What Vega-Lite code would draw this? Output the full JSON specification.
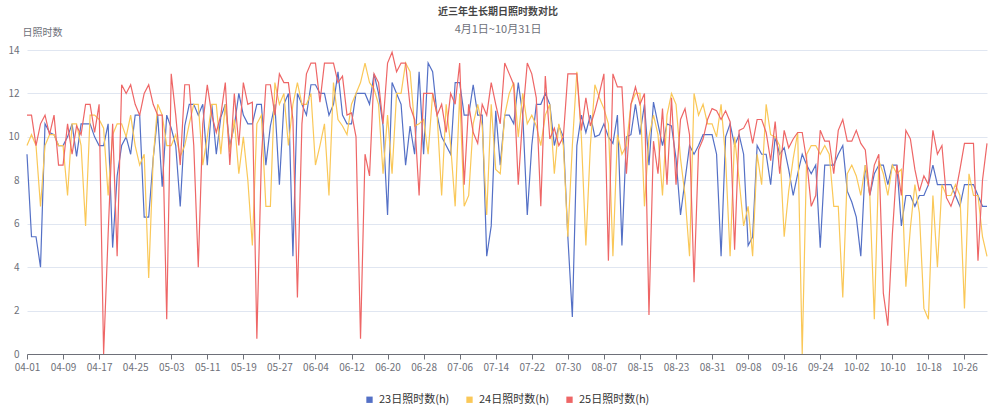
{
"$schema":"https://vega.github.io/schema/vega-lite/v6.json",
"width":960,"height":304,
"autosize":{"type":"none"},
"padding":{"left":27,"top":50,"right":13,"bottom":60},
"background":"white",
"title":{"text":"近三年生长期日照时数对比","subtitle":"4月1日~10月31日","anchor":"middle","dx":-9,"fontSize":10,"fontWeight":"bold","color":"#464646","subtitleFontSize":11,"subtitleColor":"#6E7079","subtitlePadding":7,"offset":-8,"font":"Noto Sans CJK SC","subtitleFont":"Noto Sans CJK SC"},
"data":{"values":[
{"d":"04-01","a":9.2,"b":9.6,"c":11.0},{"d":"04-02","a":5.4,"b":10.1,"c":11.0},{"d":"04-03","a":5.4,"b":9.6,"c":9.6},{"d":"04-04","a":4.0,"b":6.8,"c":10.6},{"d":"04-05","a":10.6,"b":9.6,"c":11.0},{"d":"04-06","a":10.2,"b":10.1,"c":10.1},{"d":"04-07","a":10.1,"b":10.1,"c":11.0},{"d":"04-08","a":9.6,"b":9.6,"c":8.7},{"d":"04-09","a":9.6,"b":9.6,"c":8.7},{"d":"04-10","a":10.0,"b":7.3,"c":10.6},
{"d":"04-11","a":10.6,"b":10.6,"c":9.2},{"d":"04-12","a":9.1,"b":10.6,"c":10.5},{"d":"04-13","a":10.6,"b":9.6,"c":10.1},{"d":"04-14","a":10.6,"b":5.9,"c":11.5},{"d":"04-15","a":10.6,"b":11.0,"c":11.5},{"d":"04-16","a":10.0,"b":11.0,"c":10.2},{"d":"04-17","a":9.6,"b":10.8,"c":11.5},{"d":"04-18","a":9.6,"b":10.4,"c":0},{"d":"04-19","a":10.6,"b":7.3,"c":5.5},{"d":"04-20","a":4.9,"b":10.1,"c":10.6},
{"d":"04-21","a":8.2,"b":10.6,"c":4.5},{"d":"04-22","a":9.6,"b":10.6,"c":12.4},{"d":"04-23","a":10.0,"b":10.0,"c":12.0},{"d":"04-24","a":9.2,"b":11.0,"c":12.4},{"d":"04-25","a":11.0,"b":9.6,"c":11.5},{"d":"04-26","a":11.0,"b":8.7,"c":11.0},{"d":"04-27","a":6.3,"b":9.2,"c":12.0},{"d":"04-28","a":6.3,"b":3.5,"c":12.4},{"d":"04-29","a":9.0,"b":9.0,"c":11.5},{"d":"04-30","a":11.0,"b":11.5,"c":11.0},
{"d":"05-01","a":7.7,"b":11.0,"c":11.0},{"d":"05-02","a":11.0,"b":9.6,"c":1.6},{"d":"05-03","a":10.4,"b":9.6,"c":12.9},{"d":"05-04","a":9.6,"b":10.1,"c":11.0},{"d":"05-05","a":6.8,"b":9.1,"c":8.7},{"d":"05-06","a":10.5,"b":9.6,"c":12.4},{"d":"05-07","a":11.5,"b":10.6,"c":12.4},{"d":"05-08","a":11.5,"b":11.5,"c":9.6},{"d":"05-09","a":11.0,"b":11.5,"c":4.0},{"d":"05-10","a":11.5,"b":8.7,"c":10.6},
{"d":"05-11","a":8.7,"b":10.0,"c":12.4},{"d":"05-12","a":11.5,"b":11.5,"c":11.0},{"d":"05-13","a":9.2,"b":11.5,"c":10.2},{"d":"05-14","a":10.9,"b":9.2,"c":11.0},{"d":"05-15","a":11.5,"b":11.5,"c":12.5},{"d":"05-16","a":9.6,"b":9.3,"c":8.7},{"d":"05-17","a":10.5,"b":10.8,"c":12.0},{"d":"05-18","a":12.0,"b":8.3,"c":9.6},{"d":"05-19","a":11.0,"b":10.0,"c":12.5},{"d":"05-20","a":10.6,"b":8.0,"c":11.5},
{"d":"05-21","a":10.6,"b":5.0,"c":11.6},{"d":"05-22","a":11.5,"b":10.6,"c":0.7},{"d":"05-23","a":11.5,"b":11.0,"c":9.0},{"d":"05-24","a":8.7,"b":6.8,"c":12.4},{"d":"05-25","a":10.5,"b":6.8,"c":12.4},{"d":"05-26","a":11.5,"b":12.5,"c":11.0},{"d":"05-27","a":7.8,"b":11.5,"c":12.9},{"d":"05-28","a":11.5,"b":12.0,"c":12.5},{"d":"05-29","a":12.0,"b":9.6,"c":12.5},{"d":"05-30","a":4.5,"b":11.5,"c":10.8},
{"d":"05-31","a":12.0,"b":12.5,"c":2.6},{"d":"06-01","a":11.5,"b":11.5,"c":10.6},{"d":"06-02","a":11.0,"b":11.5,"c":12.9},{"d":"06-03","a":12.4,"b":12.0,"c":13.4},{"d":"06-04","a":12.4,"b":8.7,"c":13.4},{"d":"06-05","a":12.0,"b":9.6,"c":11.6},{"d":"06-06","a":12.0,"b":10.6,"c":13.4},{"d":"06-07","a":11.0,"b":7.3,"c":13.4},{"d":"06-08","a":11.5,"b":12.5,"c":13.4},{"d":"06-09","a":13.0,"b":10.8,"c":12.5},
{"d":"06-10","a":11.0,"b":10.5,"c":12.8},{"d":"06-11","a":10.6,"b":10.1,"c":11.0},{"d":"06-12","a":10.6,"b":11.5,"c":11.1},{"d":"06-13","a":12.0,"b":12.0,"c":10.0},{"d":"06-14","a":12.0,"b":12.5,"c":0.7},{"d":"06-15","a":12.0,"b":13.4,"c":9.2},{"d":"06-16","a":11.5,"b":12.5,"c":8.2},{"d":"06-17","a":12.9,"b":12.2,"c":12.9},{"d":"06-18","a":12.0,"b":11.5,"c":12.5},{"d":"06-19","a":10.5,"b":8.3,"c":10.6},
{"d":"06-20","a":6.4,"b":11.0,"c":13.4},{"d":"06-21","a":12.5,"b":8.3,"c":13.9},{"d":"06-22","a":12.0,"b":12.0,"c":13.0},{"d":"06-23","a":11.5,"b":12.0,"c":13.4},{"d":"06-24","a":8.7,"b":13.4,"c":13.4},{"d":"06-25","a":10.5,"b":13.0,"c":11.4},{"d":"06-26","a":9.2,"b":10.5,"c":10.8},{"d":"06-27","a":13.0,"b":10.6,"c":7.3},{"d":"06-28","a":9.2,"b":10.8,"c":12.0},{"d":"06-29","a":13.4,"b":9.2,"c":12.0},
{"d":"06-30","a":13.0,"b":12.0,"c":12.0},{"d":"07-01","a":11.0,"b":11.0,"c":11.0},{"d":"07-02","a":10.0,"b":7.3,"c":11.5},{"d":"07-03","a":9.6,"b":11.5,"c":10.2},{"d":"07-04","a":9.2,"b":9.6,"c":12.0},{"d":"07-05","a":12.5,"b":6.8,"c":11.5},{"d":"07-06","a":12.5,"b":12.0,"c":13.4},{"d":"07-07","a":11.0,"b":6.8,"c":7.8},{"d":"07-08","a":11.0,"b":7.3,"c":11.5},{"d":"07-09","a":12.4,"b":10.6,"c":10.2},
{"d":"07-10","a":11.0,"b":11.5,"c":9.7},{"d":"07-11","a":11.0,"b":10.5,"c":11.5},{"d":"07-12","a":4.5,"b":6.4,"c":11.0},{"d":"07-13","a":5.9,"b":11.5,"c":12.5},{"d":"07-14","a":11.2,"b":8.5,"c":11.5},{"d":"07-15","a":8.7,"b":8.3,"c":10.6},{"d":"07-16","a":11.0,"b":11.0,"c":13.4},{"d":"07-17","a":11.0,"b":12.0,"c":12.9},{"d":"07-18","a":10.6,"b":12.5,"c":12.4},{"d":"07-19","a":12.5,"b":10.0,"c":7.8},
{"d":"07-20","a":11.0,"b":12.0,"c":11.0},{"d":"07-21","a":6.4,"b":10.6,"c":13.4},{"d":"07-22","a":9.6,"b":11.0,"c":12.9},{"d":"07-23","a":11.5,"b":10.5,"c":11.8},{"d":"07-24","a":11.5,"b":9.6,"c":6.8},{"d":"07-25","a":12.0,"b":11.0,"c":12.8},{"d":"07-26","a":11.5,"b":11.5,"c":9.9},{"d":"07-27","a":9.6,"b":8.3,"c":10.4},{"d":"07-28","a":10.5,"b":10.6,"c":9.6},{"d":"07-29","a":10.0,"b":9.6,"c":10.0},
{"d":"07-30","a":5.4,"b":5.4,"c":12.9},{"d":"07-31","a":1.7,"b":9.6,"c":12.9},{"d":"08-01","a":9.6,"b":13.0,"c":12.9},{"d":"08-02","a":11.0,"b":10.0,"c":10.3},{"d":"08-03","a":10.2,"b":5.0,"c":11.8},{"d":"08-04","a":11.0,"b":9.6,"c":10.5},{"d":"08-05","a":10.0,"b":12.4,"c":11.2},{"d":"08-06","a":10.1,"b":11.8,"c":12.0},{"d":"08-07","a":10.6,"b":11.3,"c":12.9},{"d":"08-08","a":10.0,"b":10.6,"c":4.3},
{"d":"08-09","a":9.7,"b":4.5,"c":12.9},{"d":"08-10","a":11.0,"b":10.1,"c":12.3},{"d":"08-11","a":5.0,"b":9.2,"c":12.3},{"d":"08-12","a":10.0,"b":9.6,"c":8.3},{"d":"08-13","a":10.1,"b":11.5,"c":11.5},{"d":"08-14","a":11.5,"b":12.0,"c":12.3},{"d":"08-15","a":10.1,"b":12.0,"c":11.5},{"d":"08-16","a":11.5,"b":6.8,"c":12.0},{"d":"08-17","a":8.7,"b":10.0,"c":1.8},{"d":"08-18","a":11.6,"b":11.0,"c":9.8},
{"d":"08-19","a":10.6,"b":10.1,"c":8.3},{"d":"08-20","a":9.6,"b":7.3,"c":11.3},{"d":"08-21","a":10.6,"b":11.0,"c":7.8},{"d":"08-22","a":10.5,"b":12.0,"c":11.8},{"d":"08-23","a":9.0,"b":11.5,"c":7.8},{"d":"08-24","a":6.4,"b":9.0,"c":10.8},{"d":"08-25","a":8.0,"b":7.3,"c":11.3},{"d":"08-26","a":9.6,"b":4.5,"c":10.1},{"d":"08-27","a":9.2,"b":12.0,"c":3.3},{"d":"08-28","a":9.6,"b":11.0,"c":9.4},
{"d":"08-29","a":10.1,"b":11.5,"c":9.9},{"d":"08-30","a":10.1,"b":10.6,"c":10.8},{"d":"08-31","a":10.1,"b":10.6,"c":11.3},{"d":"09-01","a":9.2,"b":10.0,"c":11.2},{"d":"09-02","a":4.5,"b":11.5,"c":10.8},{"d":"09-03","a":10.0,"b":9.0,"c":11.2},{"d":"09-04","a":10.6,"b":4.5,"c":10.7},{"d":"09-05","a":9.6,"b":10.0,"c":4.8},{"d":"09-06","a":10.1,"b":8.0,"c":10.3},{"d":"09-07","a":9.2,"b":5.9,"c":10.4},
{"d":"09-08","a":5.0,"b":6.8,"c":10.8},{"d":"09-09","a":5.4,"b":4.5,"c":9.7},{"d":"09-10","a":9.6,"b":9.2,"c":10.8},{"d":"09-11","a":9.2,"b":7.8,"c":10.8},{"d":"09-12","a":9.2,"b":11.5,"c":10.2},{"d":"09-13","a":7.8,"b":10.1,"c":8.9},{"d":"09-14","a":10.0,"b":10.0,"c":10.7},{"d":"09-15","a":9.2,"b":9.6,"c":8.3},{"d":"09-16","a":9.5,"b":5.4,"c":10.3},{"d":"09-17","a":8.5,"b":7.5,"c":9.5},
{"d":"09-18","a":7.3,"b":9.0,"c":9.9},{"d":"09-19","a":8.3,"b":10.2,"c":10.2},{"d":"09-20","a":9.2,"b":0,"c":10.2},{"d":"09-21","a":8.7,"b":9.2,"c":8.9},{"d":"09-22","a":8.3,"b":9.6,"c":6.8},{"d":"09-23","a":8.7,"b":9.6,"c":7.3},{"d":"09-24","a":4.9,"b":9.2,"c":10.3},{"d":"09-25","a":8.7,"b":9.6,"c":9.8},{"d":"09-26","a":8.7,"b":9.2,"c":9.8},{"d":"09-27","a":8.7,"b":6.8,"c":8.3},
{"d":"09-28","a":9.2,"b":6.8,"c":10.3},{"d":"09-29","a":9.6,"b":2.6,"c":10.8},{"d":"09-30","a":7.5,"b":8.3,"c":9.8},{"d":"10-01","a":7.0,"b":8.7,"c":9.8},{"d":"10-02","a":6.3,"b":8.2,"c":10.3},{"d":"10-03","a":4.5,"b":7.3,"c":9.7},{"d":"10-04","a":8.7,"b":8.7,"c":9.4},{"d":"10-05","a":7.3,"b":7.3,"c":7.3},{"d":"10-06","a":8.3,"b":1.6,"c":8.7},{"d":"10-07","a":8.7,"b":8.9,"c":9.2},
{"d":"10-08","a":8.7,"b":8.3,"c":2.8},{"d":"10-09","a":7.8,"b":7.3,"c":1.3},{"d":"10-10","a":8.7,"b":8.7,"c":5.5},{"d":"10-11","a":8.7,"b":8.3,"c":8.7},{"d":"10-12","a":5.9,"b":8.5,"c":7.3},{"d":"10-13","a":7.3,"b":3.1,"c":10.3},{"d":"10-14","a":7.3,"b":5.8,"c":9.9},{"d":"10-15","a":6.8,"b":7.8,"c":8.5},{"d":"10-16","a":7.3,"b":6.5,"c":7.5},{"d":"10-17","a":7.3,"b":2.1,"c":8.2},
{"d":"10-18","a":7.8,"b":1.6,"c":7.8},{"d":"10-19","a":8.7,"b":7.3,"c":10.3},{"d":"10-20","a":7.8,"b":4.0,"c":9.2},{"d":"10-21","a":7.8,"b":7.8,"c":9.6},{"d":"10-22","a":7.8,"b":7.3,"c":7.2},{"d":"10-23","a":7.8,"b":7.3,"c":6.8},{"d":"10-24","a":7.3,"b":7.8,"c":7.4},{"d":"10-25","a":6.8,"b":7.3,"c":8.5},{"d":"10-26","a":7.8,"b":2.1,"c":9.7},{"d":"10-27","a":7.8,"b":8.3,"c":9.7},
{"d":"10-28","a":7.8,"b":7.3,"c":9.7},{"d":"10-29","a":7.3,"b":7.3,"c":4.3},{"d":"10-30","a":6.8,"b":5.4,"c":8.0},{"d":"10-31","a":6.8,"b":4.5,"c":9.7}
]},
"transform":[{"fold":["a","b","c"],"as":["s","v"]}],
"mark":{"type":"line","strokeWidth":1.2},
"encoding":{
"x":{"field":"d","type":"ordinal","scale":{"type":"point","padding":0},"axis":{"title":null,"values":["04-01","04-09","04-17","04-25","05-03","05-11","05-19","05-27","06-04","06-12","06-20","06-28","07-06","07-14","07-22","07-30","08-07","08-15","08-23","08-31","09-08","09-16","09-24","10-02","10-10","10-18","10-26"],"labelAngle":0,"domainColor":"#6E7079","tickColor":"#6E7079","tickSize":5,"labelColor":"#6E7079","labelFontSize":10,"labelPadding":3,"grid":false}},
"y":{"field":"v","type":"quantitative","scale":{"domain":[0,14]},"axis":{"title":"日照时数","titleAngle":0,"titleX":-5,"titleY":-15,"titleAlign":"left","titleBaseline":"alphabetic","titleFontWeight":"normal","titleColor":"#6E7079","titleFontSize":10,"values":[0,2,4,6,8,10,12,14],"domain":false,"ticks":false,"labelPadding":8,"labelColor":"#6E7079","labelFontSize":10,"gridColor":"#E0E6F1"}},
"color":{"field":"s","type":"nominal","scale":{"domain":["a","b","c"],"range":["#5470c6","#fac858","#ee6666"]},"legend":{"orient":"bottom","direction":"horizontal","title":null,"labelExpr":"datum.value=='a'?'23日照时数(h)':datum.value=='b'?'24日照时数(h)':'25日照时数(h)'","symbolType":"square","symbolSize":40,"labelFontSize":11,"labelColor":"#333333","columnPadding":14,"offset":22,"encode":{"symbols":{"update":{"fill":{"scale":"color","field":"value"},"strokeWidth":{"value":0}}}}}}
},
"config":{"font":"Noto Sans CJK SC","view":{"stroke":null},"legend":{"layout":{"bottom":{"anchor":"middle"}}}}
}
